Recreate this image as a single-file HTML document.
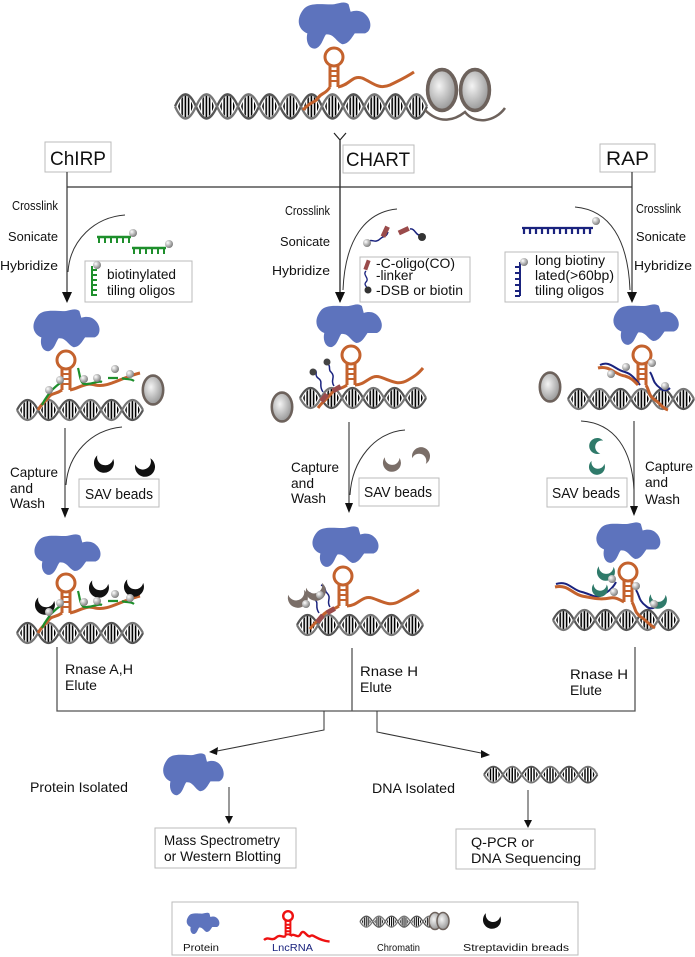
<!DOCTYPE html>
<html><head><meta charset="utf-8"><style>
html,body{margin:0;padding:0;background:#fff;}
svg{display:block;}
text{font-family:"Liberation Sans",sans-serif;fill:#111;}
</style></head><body>
<svg width="695" height="957" viewBox="0 0 695 957" xmlns="http://www.w3.org/2000/svg">
<defs>
<radialGradient id="ball" cx="35%" cy="35%" r="70%"><stop offset="0" stop-color="#fff"/><stop offset="1" stop-color="#777"/></radialGradient>
<radialGradient id="nuc" cx="40%" cy="40%" r="70%"><stop offset="0" stop-color="#f4f4f4"/><stop offset="1" stop-color="#8a8a8a"/></radialGradient>
<pattern id="stripes" width="3.2" height="10" patternUnits="userSpaceOnUse"><rect width="1.6" height="10" fill="#000"/></pattern>
<path id="prot" d="M8,8 C14,0 30,4 38,3 C44,2 48,0 52,3 L54,10 C60,8 66,9 70,14 C75,20 74,28 68,30 L58,30 C55,34 52,40 46,40 C40,38 38,30 30,31 C27,35 26,42 20,44 C14,45 10,38 12,30 C4,27 0,18 8,8Z" fill="#5d73bd"/>
<g id="lobe"><path d="M3,12 Q10.5,-6 18,12 Q10.5,30 3,12Z" fill="url(#stripes)"/></g>
<g id="dna">
<use href="#lobe"/><use href="#lobe" x="21"/><use href="#lobe" x="42"/><use href="#lobe" x="63"/><use href="#lobe" x="84"/><use href="#lobe" x="105"/>
<path d="M0,12 Q10.5,-8 21,12 Q31.5,32 42,12 Q52.5,-8 63,12 Q73.5,32 84,12 Q94.5,-8 105,12 Q115.5,32 126,12" fill="none" stroke="#555" stroke-width="2.2"/>
<path d="M0,12 Q10.5,32 21,12 Q31.5,-8 42,12 Q52.5,32 63,12 Q73.5,-8 84,12 Q94.5,32 105,12 Q115.5,-8 126,12" fill="none" stroke="#777" stroke-width="2.2"/>
</g>
<g id="hp" fill="none" stroke="#c4622d" stroke-width="3">
<circle cx="0" cy="0" r="9"/><path d="M-4,8 V30 M4,8 V30" /><path d="M-4,14 H4 M-4,19 H4 M-4,24 H4" stroke-width="2"/>
</g>
<g id="nucl"><ellipse cx="0" cy="0" rx="12" ry="17" fill="url(#nuc)" stroke="#6d625c" stroke-width="3"/></g>
<circle id="b" r="4" fill="url(#ball)"/>
<path id="cres" d="M-2,-10 A10,10 0 1,0 10,1 A7,7 0 0,1 -2,-10Z"/>
<g id="comb" stroke="#1e8f2c" stroke-width="2.5" fill="none"><path d="M0,0 H34"/><path d="M2,0 v6 M8,0 v6 M14,0 v6 M20,0 v6 M26,0 v6 M32,0 v6" stroke-width="2"/></g>
</defs>

<!-- TOP -->
<use href="#prot" transform="translate(295,1) scale(1.03,1.08)"/>
<use href="#dna" transform="translate(175,92) scale(1,1.2)"/><use href="#dna" transform="translate(301,92) scale(1,1.2)"/>
<path d="M425,110 C440,125 455,120 465,112 C475,125 495,122 505,108" fill="none" stroke="#6d625c" stroke-width="2.5"/>
<use href="#nucl" transform="translate(442,90) scale(1.2)"/><use href="#nucl" transform="translate(475,90) scale(1.2)"/>
<use href="#hp" transform="translate(334,57)"/>
<path d="M330,87 C325,95 322,92 318,98 C314,104 312,100 303,110" fill="none" stroke="#c4622d" stroke-width="3"/>
<path d="M338,87 C350,85 352,75 362,78 C372,82 378,90 390,85 C400,80 405,78 414,72" fill="none" stroke="#c4622d" stroke-width="3"/>

<!-- Y and headers -->
<path d="M334,133 L340,140 L346,133 M340,140 V300" fill="none" stroke="#222" stroke-width="1.2"/>
<rect x="45" y="142" width="66" height="30" fill="#fff" stroke="#bbb"/>
<text x="50" y="165" font-size="19" textLength="56" lengthAdjust="spacingAndGlyphs">ChIRP</text>
<rect x="343" y="145" width="71" height="28" fill="#fff" stroke="#bbb"/>
<text x="346" y="166" font-size="19" textLength="64" lengthAdjust="spacingAndGlyphs">CHART</text>
<rect x="600" y="144" width="55" height="28" fill="#fff" stroke="#bbb"/>
<text x="606" y="165" font-size="19" textLength="43" lengthAdjust="spacingAndGlyphs">RAP</text>
<path d="M67,187 H632 M67,172 V187 M632,172 V187" stroke="#333" stroke-width="1.2" fill="none"/>
<path d="M340,140 V302" stroke="#333" stroke-width="1.2"/>
<path d="M67,187 V300 M632,187 V300" stroke="#333" stroke-width="1.2"/>
<path d="M62,292 L67,303 L72,292Z M335,292 L340,303 L345,292Z M627,292 L632,303 L637,292Z" fill="#111"/>

<g font-size="13" lengthAdjust="spacingAndGlyphs">
<text x="12" y="210" textLength="46" lengthAdjust="spacingAndGlyphs">Crosslink</text><text x="8" y="241" textLength="50" lengthAdjust="spacingAndGlyphs">Sonicate</text><text x="0" y="270" textLength="58" lengthAdjust="spacingAndGlyphs">Hybridize</text>
<text x="285" y="215" textLength="45" lengthAdjust="spacingAndGlyphs">Crosslink</text><text x="280" y="246" textLength="50" lengthAdjust="spacingAndGlyphs">Sonicate</text><text x="272" y="275" textLength="58" lengthAdjust="spacingAndGlyphs">Hybridize</text>
<text x="636" y="213" textLength="45" lengthAdjust="spacingAndGlyphs">Crosslink</text><text x="636" y="241" textLength="50" lengthAdjust="spacingAndGlyphs">Sonicate</text><text x="634" y="270" textLength="58" lengthAdjust="spacingAndGlyphs">Hybridize</text>
</g>
<path d="M125,215 C95,217 70,240 68,272" fill="none" stroke="#333"/>
<path d="M397,209 C365,212 345,240 343,290" fill="none" stroke="#333"/>
<path d="M575,207 C610,210 628,240 630,290" fill="none" stroke="#333"/>

<!-- reagents -->
<use href="#comb" transform="translate(97,237)"/><use href="#b" x="133" y="233"/>
<use href="#comb" transform="translate(132,248)"/><use href="#b" x="169" y="244"/>
<rect x="85" y="261" width="107" height="41" fill="#fff" stroke="#bbb"/>
<path d="M92,266 V296 M92,270 h5 M92,275 h5 M92,280 h5 M92,285 h5 M92,290 h5 M92,295 h5" stroke="#1e8f2c" stroke-width="2"/>
<use href="#b" x="97" y="265"/>
<text x="107" y="279" font-size="14" textLength="69" lengthAdjust="spacingAndGlyphs">biotinylated</text><text x="107" y="295" font-size="14" textLength="68" lengthAdjust="spacingAndGlyphs">tiling oligos</text>

<path d="M367,242 C372,238 375,244 380,239 C384,235 386,238 388,232" fill="none" stroke="#1a237e" stroke-width="1.5"/>
<rect x="383" y="226" width="5" height="11" fill="#9a4b4b" transform="rotate(25 385 231)"/>
<rect x="398" y="228" width="11" height="5" fill="#9a4b4b" transform="rotate(-25 404 230)"/>
<path d="M410,229 C415,228 416,236 420,235 C423,234 422,238 423,238" fill="none" stroke="#1a237e" stroke-width="1.5"/>
<use href="#b" x="367" y="243"/><circle cx="422" cy="237" r="4" fill="#333"/>
<rect x="360" y="257" width="110" height="45" fill="#fff" stroke="#bbb"/>
<rect x="365" y="260" width="4" height="10" fill="#9a4b4b" transform="rotate(20 367 265)"/>
<path d="M366,271 C362,275 370,278 366,282 C363,285 368,287 367,289" fill="none" stroke="#1a237e" stroke-width="1.3"/>
<circle cx="368" cy="290" r="3.5" fill="#333"/>
<g font-size="14"><text x="376" y="268" textLength="79" lengthAdjust="spacingAndGlyphs">-C-oligo(CO)</text><text x="376" y="280" textLength="37" lengthAdjust="spacingAndGlyphs">-linker</text><text x="376" y="295" textLength="87" lengthAdjust="spacingAndGlyphs">-DSB or biotin</text></g>

<path d="M522,228 H593 M524,228 v6 M530,228 v6 M536,228 v6 M542,228 v6 M548,228 v6 M554,228 v6 M560,228 v6 M566,228 v6 M572,228 v6 M578,228 v6 M584,228 v6 M590,228 v6" stroke="#1a237e" stroke-width="2.2"/>
<use href="#b" x="596" y="221"/>
<rect x="505" y="252" width="113" height="50" fill="#fff" stroke="#bbb"/>
<path d="M520,262 V296 M520,267 h-5 M520,273 h-5 M520,279 h-5 M520,285 h-5 M520,291 h-5 M520,296 h-5" stroke="#1a237e" stroke-width="2"/>
<use href="#b" x="524" y="262"/>
<g font-size="14"><text x="535" y="265" textLength="70" lengthAdjust="spacingAndGlyphs">long biotiny</text><text x="535" y="280" textLength="79" lengthAdjust="spacingAndGlyphs">lated(&gt;60bp)</text><text x="535" y="295" textLength="69" lengthAdjust="spacingAndGlyphs">tiling oligos</text></g>

<!-- MIDDLE ROW -->
<use href="#prot" transform="translate(30,308) scale(0.95,0.98)"/>
<use href="#dna" transform="translate(17,398)"/>
<use href="#nucl" transform="translate(153,390) scale(0.85)"/>
<use href="#hp" transform="translate(66,360)"/>
<path d="M62,390 C55,395 52,392 48,398 C45,402 42,403 38,410" fill="none" stroke="#c4622d" stroke-width="3"/>
<path d="M70,390 C80,388 85,382 95,385 C108,388 120,378 140,373" fill="none" stroke="#c4622d" stroke-width="3"/>
<path d="M42,405 C45,398 48,396 50,392 C54,388 58,384 62,382 M78,368 C80,375 80,382 84,384 C92,385 98,380 102,382 M108,378 H118 M122,378 C126,380 130,378 134,381" fill="none" stroke="#1e8f2c" stroke-width="2.2"/>
<use href="#b" x="49" y="390"/><use href="#b" x="60" y="380"/><use href="#b" x="84" y="379"/><use href="#b" x="97" y="378"/><use href="#b" x="115" y="369"/><use href="#b" x="130" y="374"/>

<use href="#prot" transform="translate(313,303) scale(0.94,1.0)"/>
<use href="#dna" transform="translate(300,386)"/>
<use href="#nucl" transform="translate(282,407) scale(0.85)"/>
<use href="#hp" transform="translate(351,355)"/>
<path d="M347,385 C340,390 335,388 330,395 C326,400 322,402 318,408" fill="none" stroke="#c4622d" stroke-width="3"/>
<path d="M355,385 C366,385 370,374 380,377 C392,381 398,386 408,380 C415,376 418,374 423,368" fill="none" stroke="#c4622d" stroke-width="3"/>
<rect x="322" y="393" width="5" height="9" fill="#9a4b4b" transform="rotate(40 324 397)"/><rect x="335" y="384" width="5" height="9" fill="#9a4b4b" transform="rotate(60 337 388)"/>
<path d="M323,392 C318,385 324,382 318,378 C314,375 318,372 315,370 M334,386 C330,380 336,377 331,372 C328,370 331,366 328,364" fill="none" stroke="#1a237e" stroke-width="1.5"/>
<circle cx="313" cy="372" r="3.5" fill="#444"/><circle cx="327" cy="362" r="3.5" fill="#444"/>

<use href="#prot" transform="translate(610,303) scale(0.94,0.95)"/>
<use href="#dna" transform="translate(568,387)"/>
<use href="#nucl" transform="translate(550,387) scale(0.85)"/>
<use href="#hp" transform="translate(642,355)"/>
<path d="M600,365 C610,360 615,370 625,372 C632,374 636,380 640,385" fill="none" stroke="#1a237e" stroke-width="2"/>
<path d="M598,368 C610,365 615,375 625,376 C632,378 635,382 638,385" fill="none" stroke="#c4622d" stroke-width="3"/>
<path d="M646,385 C650,392 648,395 655,400 C660,403 662,408 668,410" fill="none" stroke="#c4622d" stroke-width="3"/>
<path d="M650,372 C654,378 652,382 660,388 C664,392 668,390 670,388" fill="none" stroke="#1a237e" stroke-width="2"/>
<use href="#b" x="626" y="367"/><use href="#b" x="611" y="374"/><use href="#b" x="652" y="363"/><use href="#b" x="665" y="386"/>

<!-- Capture -->
<path d="M65,428 V515 M349,422 V510 M634,421 V512" stroke="#333" stroke-width="1.1"/>
<path d="M61,508 L65,518 L69,508Z M345,503 L349,513 L353,503Z M630,506 L634,516 L638,506Z" fill="#111"/>
<path d="M122,427 C90,430 68,455 66,485" fill="none" stroke="#333"/>
<path d="M405,430 C375,432 352,460 350,495" fill="none" stroke="#333"/>
<path d="M581,421 C615,423 632,450 634,490" fill="none" stroke="#333"/>
<g font-size="14">
<text x="10" y="477" textLength="48" lengthAdjust="spacingAndGlyphs">Capture</text><text x="10" y="493" textLength="23" lengthAdjust="spacingAndGlyphs">and</text><text x="10" y="508" textLength="35" lengthAdjust="spacingAndGlyphs">Wash</text>
<text x="291" y="472" textLength="48" lengthAdjust="spacingAndGlyphs">Capture</text><text x="291" y="488" textLength="23" lengthAdjust="spacingAndGlyphs">and</text><text x="291" y="503" textLength="35" lengthAdjust="spacingAndGlyphs">Wash</text>
<text x="645" y="471" textLength="48" lengthAdjust="spacingAndGlyphs">Capture</text><text x="645" y="487" textLength="23" lengthAdjust="spacingAndGlyphs">and</text><text x="645" y="504" textLength="35" lengthAdjust="spacingAndGlyphs">Wash</text>
</g>
<use href="#cres" transform="translate(104,463) rotate(-30)" fill="#111"/>
<use href="#cres" transform="translate(145,467) rotate(200) scale(1,-1)" fill="#111"/>
<use href="#cres" transform="translate(392,463) rotate(-40) scale(0.9)" fill="#7a6e68"/>
<use href="#cres" transform="translate(421,456) rotate(160) scale(0.9)" fill="#7a6e68"/>
<use href="#cres" transform="translate(597,446) rotate(60) scale(0.8)" fill="#2f7a6a"/>
<use href="#cres" transform="translate(597,467) rotate(-30) scale(0.8)" fill="#2f7a6a"/>
<rect x="79" y="479" width="80" height="28" fill="#fff" stroke="#bbb"/><text x="85" y="499" font-size="15" textLength="68" lengthAdjust="spacingAndGlyphs">SAV beads</text>
<rect x="359" y="478" width="80" height="28" fill="#fff" stroke="#bbb"/><text x="364" y="497" font-size="15" textLength="68" lengthAdjust="spacingAndGlyphs">SAV beads</text>
<rect x="547" y="478" width="80" height="29" fill="#fff" stroke="#bbb"/><text x="552" y="498" font-size="15" textLength="68" lengthAdjust="spacingAndGlyphs">SAV beads</text>

<!-- BOTTOM ROW -->
<use href="#prot" transform="translate(31,533) scale(0.95,0.95)"/>
<use href="#dna" transform="translate(17,621)"/>
<use href="#hp" transform="translate(66,583)"/>
<path d="M62,613 C55,618 52,615 48,621 C45,625 42,626 38,633" fill="none" stroke="#c4622d" stroke-width="3"/>
<path d="M70,613 C80,611 85,605 95,608 C108,611 120,601 140,596" fill="none" stroke="#c4622d" stroke-width="3"/>
<path d="M42,628 C45,621 48,619 50,615 C54,611 58,607 62,605 M78,591 C80,598 80,605 84,607 C92,608 98,603 102,605 M108,601 H118 M122,601 C126,603 130,601 134,604" fill="none" stroke="#1e8f2c" stroke-width="2.2"/>
<use href="#cres" transform="translate(45,605) rotate(-30)" fill="#111"/>
<use href="#cres" transform="translate(99,588) rotate(-30)" fill="#111"/>
<use href="#cres" transform="translate(134,587) rotate(-30)" fill="#111"/>
<use href="#b" x="49" y="612"/><use href="#b" x="60" y="603"/><use href="#b" x="84" y="602"/><use href="#b" x="97" y="601"/><use href="#b" x="115" y="594"/><use href="#b" x="130" y="598"/>

<use href="#prot" transform="translate(309,525) scale(0.95,0.95)"/>
<use href="#dna" transform="translate(297,613)"/>
<use href="#hp" transform="translate(343,576)"/>
<path d="M339,606 C332,611 328,609 322,616 C318,621 314,623 310,629" fill="none" stroke="#c4622d" stroke-width="3"/>
<path d="M347,606 C358,606 362,595 372,598 C384,602 390,607 400,601 C407,597 412,595 419,590" fill="none" stroke="#c4622d" stroke-width="3"/>
<rect x="318" y="614" width="5" height="9" fill="#9a4b4b" transform="rotate(40 320 618)"/><rect x="329" y="606" width="5" height="9" fill="#9a4b4b" transform="rotate(60 331 610)"/>
<path d="M319,613 C314,606 320,603 314,599 C310,596 314,593 306,592 M330,607 C326,601 332,598 327,593 C324,591 327,587 321,585" fill="none" stroke="#1a237e" stroke-width="1.5"/>
<use href="#cres" transform="translate(298,598) rotate(-60)" fill="#7a6e68"/>
<use href="#cres" transform="translate(316,591) rotate(-60)" fill="#7a6e68"/>
<use href="#b" x="306" y="604"/><use href="#b" x="320" y="595"/>

<use href="#prot" transform="translate(593,521) scale(0.92,0.95)"/>
<use href="#dna" transform="translate(553,608)"/>
<use href="#hp" transform="translate(628,572)"/>
<path d="M556,584 C568,580 572,590 582,592 C590,594 595,598 600,596 C606,593 612,590 616,582" fill="none" stroke="#1a237e" stroke-width="2"/>
<path d="M555,587 C568,584 572,594 582,596 C592,598 600,600 610,598 C616,597 620,600 624,602" fill="none" stroke="#c4622d" stroke-width="3"/>
<path d="M632,602 C636,609 634,612 641,617 C646,620 648,624 655,628" fill="none" stroke="#c4622d" stroke-width="3"/>
<path d="M636,590 C640,596 638,600 646,606 C650,610 654,608 656,606" fill="none" stroke="#1a237e" stroke-width="2"/>
<use href="#cres" transform="translate(606,572) rotate(-40) scale(0.9)" fill="#2f7a6a"/>
<use href="#cres" transform="translate(600,589) rotate(-40) scale(0.8)" fill="#2f7a6a"/>
<use href="#cres" transform="translate(658,600) rotate(-40) scale(0.9)" fill="#2f7a6a"/>
<use href="#b" x="612" y="579"/><use href="#b" x="614" y="592"/><use href="#b" x="636" y="586"/><use href="#b" x="654" y="604"/>

<!-- Rnase -->
<path d="M57,647 V711 H635 V647 M352,648 V711" fill="none" stroke="#555" stroke-width="1.3"/>
<g font-size="14">
<text x="65" y="674" textLength="68" lengthAdjust="spacingAndGlyphs">Rnase A,H</text><text x="65" y="690" textLength="32" lengthAdjust="spacingAndGlyphs">Elute</text>
<text x="360" y="676" textLength="58" lengthAdjust="spacingAndGlyphs">Rnase H</text><text x="360" y="692" textLength="32" lengthAdjust="spacingAndGlyphs">Elute</text>
<text x="570" y="679" textLength="58" lengthAdjust="spacingAndGlyphs">Rnase H</text><text x="570" y="695" textLength="32" lengthAdjust="spacingAndGlyphs">Elute</text>
</g>
<path d="M324,711 V730 L212,752 M377,711 V732 L486,754" fill="none" stroke="#333" stroke-width="1"/>
<path d="M209,752 L218,747 L217,755Z M490,755 L481,750 L481,758Z" fill="#111"/>

<!-- isolated -->
<text x="30" y="792" font-size="14" textLength="98" lengthAdjust="spacingAndGlyphs">Protein Isolated</text>
<use href="#prot" transform="translate(160,752) scale(0.87,0.98)"/>
<path d="M229,787 V818" stroke="#333"/><path d="M225,816 L229,824 L233,816Z" fill="#111"/>
<text x="372" y="793" font-size="14" textLength="83" lengthAdjust="spacingAndGlyphs">DNA Isolated</text>
<use href="#dna" transform="translate(484,765) scale(0.9,0.8)"/>
<path d="M528,790 V822" stroke="#333"/><path d="M524,820 L528,828 L532,820Z" fill="#111"/>
<rect x="155" y="828" width="141" height="40" fill="#fff" stroke="#bbb"/>
<text x="164" y="845" font-size="14" textLength="116" lengthAdjust="spacingAndGlyphs">Mass  Spectrometry</text><text x="164" y="861" font-size="14" textLength="117" lengthAdjust="spacingAndGlyphs">or Western  Blotting</text>
<rect x="456" y="829" width="139" height="40" fill="#fff" stroke="#bbb"/>
<text x="471" y="847" font-size="14" textLength="63" lengthAdjust="spacingAndGlyphs">Q-PCR or</text><text x="471" y="863" font-size="14" textLength="110" lengthAdjust="spacingAndGlyphs">DNA Sequencing</text>

<!-- legend -->
<rect x="172" y="902" width="406" height="53" fill="#fff" stroke="#bbb"/>
<use href="#prot" transform="translate(185,912) scale(0.47,0.5)"/>
<text x="183" y="951" font-size="10" textLength="36" lengthAdjust="spacingAndGlyphs">Protein</text>
<g transform="translate(288,916) scale(0.8)" stroke="#e11" fill="none" stroke-width="3">
<circle cx="0" cy="0" r="6"/><path d="M-3,6 V25 M3,6 V25 M-3,11 H3 M-3,15 H3 M-3,19 H3 M-3,23 H3" stroke-width="2.5"/>
<path d="M-30,30 C-25,25 -20,32 -15,27 C-10,22 -6,28 -3,25 M3,25 C8,20 12,30 16,22 C20,15 24,28 28,25 C32,22 35,30 52,32"/>
</g>
<text x="272" y="951" font-size="10" style="fill:#1a237e" textLength="41" lengthAdjust="spacingAndGlyphs">LncRNA</text>
<use href="#dna" transform="translate(360,915) scale(0.6,0.55)"/>
<use href="#nucl" transform="translate(435,921) scale(0.5)"/><use href="#nucl" transform="translate(443,921) scale(0.5)"/>
<text x="377" y="951" font-size="10" textLength="43" lengthAdjust="spacingAndGlyphs">Chromatin</text>
<use href="#cres" transform="translate(492,920) rotate(-30) scale(0.9)" fill="#111"/>
<text x="463" y="951" font-size="10" textLength="106" lengthAdjust="spacingAndGlyphs">Streptavidin breads</text>
</svg>
</body></html>
